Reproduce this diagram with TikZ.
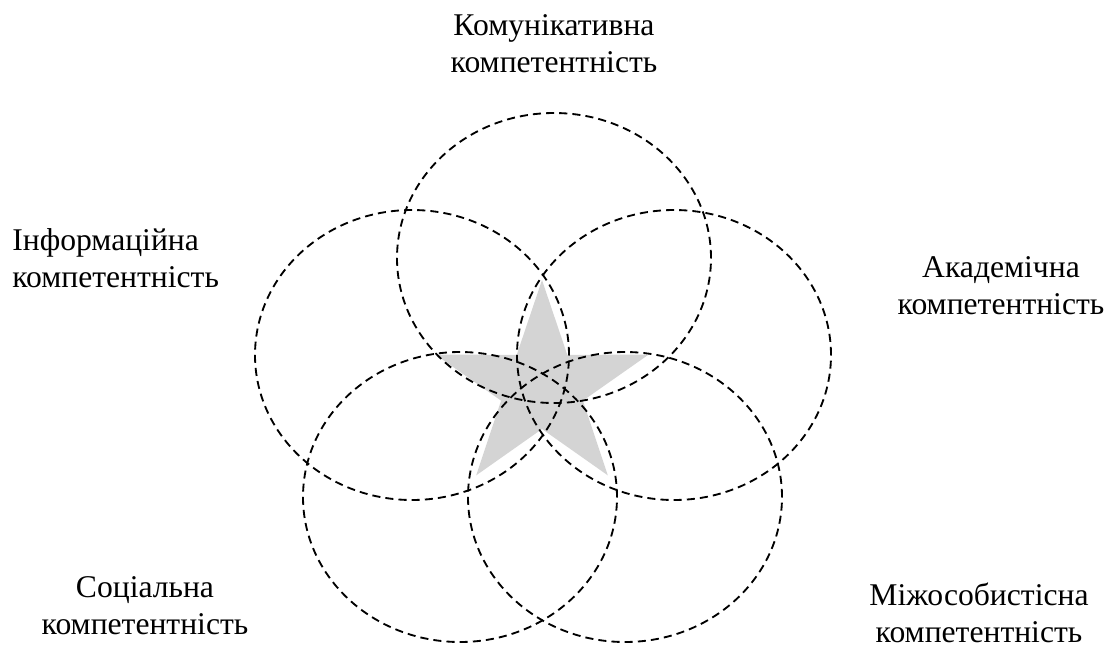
\documentclass[tikz,border=0pt]{standalone}
\usepackage{fontspec}
\setmainfont{Liberation Serif}
\definecolor{starfill}{RGB}{212,212,212}
\tikzset{
  ring/.style={draw=black, line width=1.05pt, dash pattern=on 4.6pt off 2.9pt},
  comptext/.style={inner sep=0pt, align=center, font=\fontsize{18pt}{21pt}\selectfont},
}

\begin{document}
\begin{tikzpicture}[x=0.02cm, y=0.02cm]
    \useasboundingbox (0,0) rectangle (1113,-650);

    % star in the middle
    \begin{scope}[shift={(542,-388)}]
      \fill[starfill] (90:112 and 108) -- (126:43 and 41)
        -- (162:112 and 108) -- (198:43 and 41)
        -- (234:112 and 108) -- (270:43 and 41)
        -- (306:112 and 108) -- (342:43 and 41)
        -- (18:112 and 108) -- (54:43 and 41) -- cycle;
    \end{scope}

    % five competences
    \draw[ring] (554,-258) ellipse [x radius=157, y radius=145];
    \draw[ring] (412,-355) ellipse [x radius=157, y radius=145];
    \draw[ring] (674,-355) ellipse [x radius=157, y radius=145];
    \draw[ring] (460,-497) ellipse [x radius=157, y radius=145];
    \draw[ring] (625,-497) ellipse [x radius=157, y radius=145];

    \node (komun) [comptext] at (554,-44) {Комунікативна\\компетентність};
    \node (inform) [comptext, align=left, anchor=west] at (12,-258) {Інформаційна\\компетентність};
    \node (akadem) [comptext] at (1001,-286) {Академічна\\компетентність};
    \node (social) [comptext] at (145,-606) {Соціальна\\компетентність};
    \node (mizh) [comptext] at (979,-613) {Міжособистісна\\компетентність};
\end{tikzpicture}
\end{document}
